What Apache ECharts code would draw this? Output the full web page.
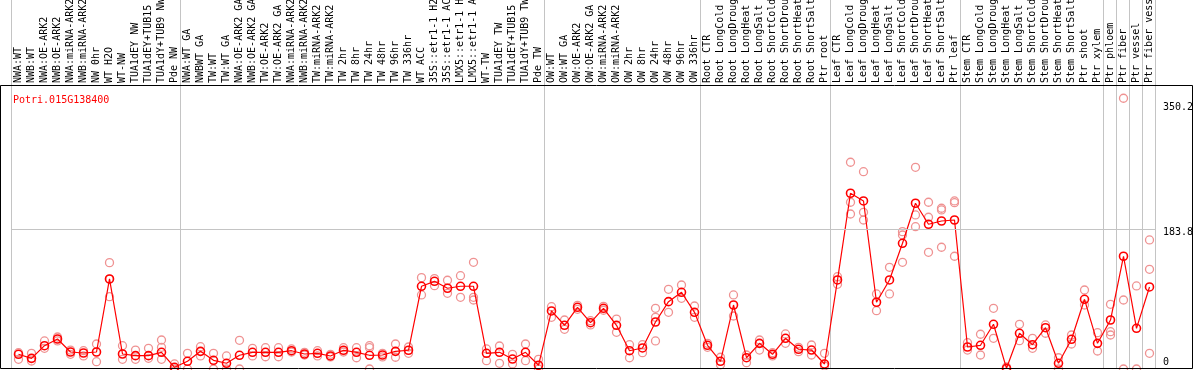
<!DOCTYPE html>
<html><head><meta charset="utf-8">
<script src="https://cdn.jsdelivr.net/npm/echarts@6/dist/echarts.min.js"></script>
<style>html,body{margin:0;padding:0;background:#fff}#c{width:1194px;height:370px}</style>
</head><body><div id="c"></div>
<script>
const geneId = 'Potri.015G138400';

const categories = [
  'NWA:WT','NWB:WT','NWA:OE-ARK2','NWB:OE-ARK2','NWA:miRNA-ARK2','NWB:miRNA-ARK2','NW 0hr','WT H2O','WT-NW','TUA1dEY NW','TUA1dEY+TUB15 NW','TUA1dY+TUB9 NW','Pde NW',
  'NWA:WT GA','NWBWT GA','TW:WT','TW:WT GA','NWA:OE-ARK2 GA','NWB:OE-ARK2 GA','TW:OE-ARK2','TW:OE-ARK2 GA','NWA:miRNA-ARK2 GA','NWB:miRNA-ARK2 GA','TW:miRNA-ARK2','TW:miRNA-ARK2 GA',
  'TW 2hr','TW 8hr','TW 24hr','TW 48hr','TW 96hr','TW 336hr','WT ACC','35S::etr1-1 H2O','35S::etr1-1 ACC','LMX5::etr1-1 H2O','LMX5::etr1-1 ACC','WT-TW','TUA1dEY TW','TUA1dEY+TUB15 TW','TUA1dY+TUB9 TW','Pde TW',
  'OW:WT','OW:WT GA','OW:OE-ARK2','OW:OE-ARK2 GA','OW:miRNA-ARK2','OW:miRNA-ARK2 GA','OW 2hr','OW 8hr','OW 24hr','OW 48hr','OW 96hr','OW 336hr',
  'Root CTR','Root LongCold','Root LongDrought','Root LongHeat','Root LongSalt','Root ShortCold','Root ShortDrought','Root ShortHeat','Root ShortSalt','Ptr root',
  'Leaf CTR','Leaf LongCold','Leaf LongDrought','Leaf LongHeat','Leaf LongSalt','Leaf ShortCold','Leaf ShortDrought','Leaf ShortHeat','Leaf ShortSalt','Ptr leaf',
  'Stem CTR','Stem LongCold','Stem LongDrought','Stem LongHeat','Stem LongSalt','Stem ShortCold','Stem ShortDrought','Stem ShortHeat','Stem ShortSalt','Ptr shoot','Ptr xylem',
  'Ptr phloem','Ptr fiber','Ptr vessel','Ptr fiber vessel'
];

const means = [
  19.3, 14.0, 30.6, 39.4, 22.3, 21.0, 22.3, 118.2, 19.7, 17.5, 17.5, 21.9, 2.2,
  10.1, 23.2, 11.4, 7.5, 18.0, 21.9, 21.9, 21.9, 24.0, 19.7, 20.6, 17.1, 24.6, 21.9, 18.0, 18.4, 23.2, 24.6,
  108.6, 115.1, 106.0, 108.6, 108.6, 20.6, 21.9, 13.1, 21.9, 4.9,
  76.2, 57.4, 81.0, 60.8, 79.7, 57.4, 24.0, 27.6, 61.7, 88.4, 100.7, 74.4,
  31.1, 10.1, 84.0, 14.8, 33.7, 19.3, 40.3, 25.9, 24.9, 6.6,
  116.9, 230.7, 220.6, 87.6, 116.9, 165.0, 217.6, 190.0, 194.3, 195.6,
  28.9, 31.1, 58.7, 0.9, 46.9, 31.9, 54.2, 7.5, 39.0, 91.5, 33.7,
  64.3, 148.0, 53.4, 107.7
];

const replicates = [
  [21.4, 12.7], [20.6, 10.5], [36.8, 27.2], [42.0, 36.8], [24.9, 19.3], [24.0, 17.1], [32.8, 9.6], [139.6, 94.9, 118.0], [30.6, 12.7], [24.9, 12.7], [27.2, 14.0], [38.1, 28.5, 12.7], [6.6, 0],
  [20.6, 0], [29.3, 17.1], [20.6, 0], [17.1, 0], [37.7, 0], [27.2, 17.1], [28.0, 16.1], [28.0, 16.1], [26.3, 22.3], [21.9, 18.4], [24.0, 17.1], [19.3, 15.8], [28.0, 22.3], [28.0, 14.8], [30.6, 28.0, 0], [20.6, 15.8], [32.8, 15.4], [20.6, 28.9],
  [119.9, 97.2], [118.6, 109.4], [116.5, 99.4], [122.5, 94.1], [140.1, 94.1, 90.6], [26.3, 10.9], [30.2, 7.5], [19.3, 6.6], [32.8, 10.9], [12.7, 0],
  [81.8, 67.9], [64.3, 52.1], [83.6, 78.4], [63.4, 57.8], [82.3, 77.1], [65.6, 48.2], [31.9, 14.8], [31.9, 21.4], [79.7, 67.9, 36.8], [104.6, 74.4], [110.3, 92.8], [82.7, 67.9],
  [33.7, 28.5], [15.4, 5.6], [97.2, 69.6], [18.4, 8.3], [38.1, 24.9], [21.4, 17.1], [46.0, 33.7], [28.5, 22.7], [31.5, 18.4], [20.6, 3.9],
  [121.2, 111.2], [271.4, 218.9, 203.5], [259.0, 205.7, 195.6], [98.5, 76.5], [133.5, 98.5], [180.3, 175.9, 140.1], [264.8, 202.2, 186.8], [218.9, 199.2, 153.2], [211.0, 208.8, 159.8], [220.6, 218.3, 148.0],
  [34.5, 24.9], [45.6, 18.4], [79.7, 40.3], [0, 2.6], [58.7, 37.2], [40.3, 27.2], [57.8, 46.9], [14.8, 0], [44.6, 32.8], [103.7, 84.0], [47.7, 23.6],
  [84.9, 49.0, 44.6], [355.4, 90.6, 0], [109.0, 0], [169.4, 130.9, 20.6]
];

const groupBoundaries = [0, 13, 41, 53, 63, 73, 84, 85, 86, 87, 88];
const yTickValues = [0, 183.8, 350.2];
const refLineValue = 183.8;

const FONT = 'DejaVu Sans Mono';
const replicatePoints = replicates.flatMap((arr, i) => arr.map(v => [i, v]));

const chart = echarts.init(document.getElementById('c'), null, {renderer: 'canvas'});
chart.setOption({
  animation: false,
  backgroundColor: '#fff',
  title: {
    text: geneId, left: 8, top: 90,
    textStyle: {color: '#ff0000', fontSize: 10, fontWeight: 'normal', fontFamily: FONT}
  },
  grid: {left: 12, right: 38, top: 86, bottom: 1, containLabel: false, outerBoundsMode: 'none'},
  xAxis: [{
    type: 'category', data: categories, position: 'top', boundaryGap: true,
    axisLine: {show: false}, axisTick: {show: false}, splitLine: {show: false},
    axisLabel: {rotate: 90, interval: 0, margin: 3, fontSize: 10, fontFamily: FONT, color: '#000', hideOverlap: false}
  }, {
    type: 'value', min: 0, max: categories.length, show: false
  }],
  yAxis: {
    type: 'value', position: 'right', min: 0, max: 371.5,
    axisLine: {show: false}, axisTick: {show: false}, splitLine: {show: false},
    axisLabel: {
      customValues: yTickValues, margin: 7, fontSize: 10, fontFamily: FONT, color: '#000',
      showMinLabel: true, showMaxLabel: true,
      formatter: function (v) {
        if (v === 0) return '{b|0}';
        if (v === refLineValue) return '{m|' + v + '}';
        return '{t|' + v + '}';
      },
      rich: {
        t: {fontSize: 10, fontFamily: FONT, color: '#000', padding: [10, 0, 0, 0]},
        m: {fontSize: 10, fontFamily: FONT, color: '#000', padding: [6, 0, 0, 0]},
        b: {fontSize: 10, fontFamily: FONT, color: '#000', padding: [0, 0, 14, 0]}
      }
    }
  },
  graphic: [{
    type: 'rect', silent: true, z: 100,
    shape: {x: 0.5, y: 85.5, width: 1192, height: 283},
    style: {fill: 'none', stroke: '#000', lineWidth: 1}
  }],
  series: [{
    type: 'custom', xAxisIndex: 1, yAxisIndex: 0, clip: false, z: 1, silent: true,
    data: groupBoundaries.map(b => [b]),
    encode: {x: 0},
    renderItem: function (params, api) {
      const x = Math.round(api.coord([api.value(0), 0])[0]) - 0.5;
      const cs = params.coordSys;
      return {type: 'line', shape: {x1: x, y1: 0, x2: x, y2: cs.y + cs.height},
              style: {stroke: '#c4c4c4', lineWidth: 1}};
    }
  }, {
    type: 'scatter', name: 'replicates', z: 2, silent: true,
    data: replicatePoints, symbol: 'circle', symbolSize: 8,
    itemStyle: {color: 'rgba(255,255,255,0)', borderColor: '#ef9292', borderWidth: 1.3, opacity: 1}
  }, {
    type: 'line', name: 'mean', z: 3, silent: true,
    data: means, symbol: 'circle', symbolSize: 8, showAllSymbol: true,
    lineStyle: {color: '#ff0000', width: 1.2},
    itemStyle: {color: 'rgba(255,255,255,0)', borderColor: '#ff0000', borderWidth: 1.6},
    markLine: {
      silent: true, symbol: ['none', 'none'], label: {show: false},
      lineStyle: {color: '#c4c4c4', type: 'solid', width: 1},
      data: [{yAxis: refLineValue}]
    }
  }]
});
</script>
</body></html>
